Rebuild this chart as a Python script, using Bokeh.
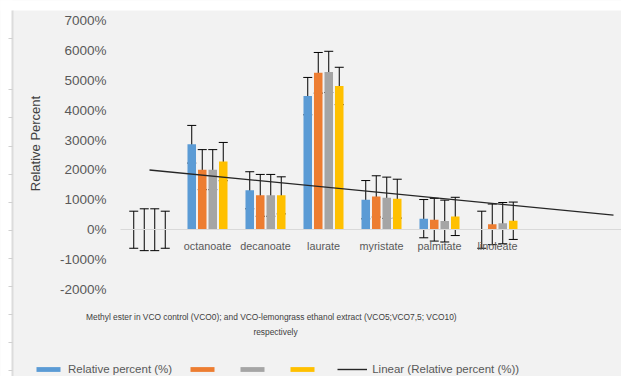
import numpy as np
from bokeh.plotting import figure
from bokeh.models import (Range1d, FixedTicker, PrintfTickFormatter, ColumnDataSource,
                          Whisker, TeeHead, Label, Legend, LegendItem, LinearAxis, BoxAnnotation)
from bokeh.embed import file_html
from bokeh.resources import INLINE

# ---------------- data ----------------
categories = ["", "octanoate", "decanoate", "laurate", "myristate", "palmitate", "linoleate"]
vco0 = [0, 2860, 1320, 4470, 1005, 370, 0]
vco5 = [0, 2010, 1150, 5250, 1115, 335, 180]
vco75 = [0, 2010, 1150, 5280, 1070, 290, 220]
vco10 = [0, 2280, 1150, 4810, 1040, 445, 300]
err0 = [620, 630, 620, 625, 640, 640, 620]
err5 = [700, 670, 700, 680, 690, 715, 680]
err75 = [700, 670, 700, 690, 690, 700, 690]
err10 = [620, 640, 620, 625, 650, 640, 625]
series_labels = ["Relative percent (%)", "", "", ""]
trend_label = "Linear (Relative percent (%))"
forecast_forward = 2
y_ticks = [-2000, -1000, 0, 1000, 2000, 3000, 4000, 5000, 6000, 7000]
y_title = "Relative Percent"
x_title_1 = "Methyl ester in VCO control (VCO0); and VCO-lemongrass  ethanol extract (VCO5;VCO7,5; VCO10)"
x_title_2 = "respectively"

# ---------------- style / layout (pixels) ----------------
FONT = "Liberation Sans"
BG = "#f2f2f2"
colors = ["#5B9BD5", "#ED7D31", "#A5A5A5", "#FFC000"]
W, H = 621, 376
PL, PT, PB = 120, 20, 289        # plot-area left, y of top tick, y of bottom tick
STEP = 58.0                      # px per category
y_lo, y_hi = y_ticks[0], y_ticks[-1]
ppu = (PB - PT) / (y_hi - y_lo)  # px per unit
yr = Range1d(y_lo - (H - PB) / ppu, y_hi + PT / ppu)
xr = Range1d(0.5 - PL / STEP, 0.5 + (W - PL) / STEP)
offsets = [-0.2716, -0.0905, 0.0905, 0.2716]
bar_w = 0.147

p = figure(width=W, height=H, output_backend="svg", toolbar_location=None,
           x_range=xr, y_range=yr, x_axis_location=None, y_axis_location=None,
           min_border=0, background_fill_color=BG, border_fill_color=BG,
           outline_line_color=None)
p.xgrid.visible = False
p.ygrid.visible = False

# page decorations: white strips and left ruler line
p.add_layout(BoxAnnotation(left=-5, right=12, bottom=-50, top=H + 50,
                           left_units="screen", right_units="screen",
                           bottom_units="screen", top_units="screen",
                           fill_color="white", fill_alpha=1, line_color=None))
p.add_layout(BoxAnnotation(left=-5, right=W + 5, bottom=H - 10, top=H + 50,
                           left_units="screen", right_units="screen",
                           bottom_units="screen", top_units="screen",
                           fill_color="white", fill_alpha=1, line_color=None))
p.add_layout(BoxAnnotation(left=11, right=13, bottom=-50, top=H - 10,
                           left_units="screen", right_units="screen",
                           bottom_units="screen", top_units="screen",
                           fill_color="#dcdcdc", fill_alpha=1, line_color=None))
for ty in [38, 89, 117, 146, 174, 202, 230, 258, 286, 314, 342, 370]:
    p.add_layout(BoxAnnotation(left=8, right=12, bottom=H - ty - 0.5, top=H - ty + 0.5,
                               left_units="screen", right_units="screen",
                               bottom_units="screen", top_units="screen",
                               fill_color="#d0d0d0", fill_alpha=1, line_color=None))

xs = np.arange(1, len(categories) + 1)
all_vals = [vco0, vco5, vco75, vco10]
all_errs = [err0, err5, err75, err10]
bar_renderers = []
for vals, col, off in zip(all_vals, colors, offsets):
    src = ColumnDataSource(dict(x=xs + off, top=np.array(vals, dtype=float)))
    r = p.vbar(x="x", top="top", width=bar_w, source=src, fill_color=col, line_color=None)
    bar_renderers.append(r)

# linear trend of first series, extended forward
coef = np.polyfit(xs, np.array(vco0, dtype=float), 1)
tx = np.array([1, len(categories) + forecast_forward], dtype=float)
tr = p.line(tx, np.polyval(coef, tx), line_color="#262626", line_width=1.4)

for vals, errs, off in zip(all_vals, all_errs, offsets):
    v = np.array(vals, dtype=float)
    e = np.array(errs, dtype=float)
    src = ColumnDataSource(dict(x=xs + off, upper=v + e, lower=v - e))
    wk = Whisker(base="x", upper="upper", lower="lower", source=src, dimension="height",
                 line_color="black", line_width=1,
                 upper_head=TeeHead(size=9, line_color="black", line_width=1),
                 lower_head=TeeHead(size=9, line_color="black", line_width=1))
    p.add_layout(wk)

# axes drawn inside the frame
xa = LinearAxis(fixed_location=0, bounds=(0.5, xr.end))
xa.ticker = FixedTicker(ticks=[int(i) for i in xs])
xa.major_label_overrides = {int(i): c for i, c in zip(xs, categories)}
xa.axis_line_color = "#d9d9d9"
xa.major_tick_line_color = None
xa.minor_tick_line_color = None
xa.major_label_standoff = 4
xa.major_label_text_font = FONT
xa.major_label_text_font_size = "10.8px"
xa.major_label_text_color = "#595959"
p.add_layout(xa, "below")

ya = LinearAxis(fixed_location=0.5)
ya.ticker = FixedTicker(ticks=y_ticks)
ya.formatter = PrintfTickFormatter(format="%d%%")
ya.axis_line_color = None
ya.major_tick_line_color = None
ya.minor_tick_line_color = None
ya.major_tick_out = 0
ya.major_label_standoff = 14
ya.major_label_text_font = FONT
ya.major_label_text_font_size = "13.5px"
ya.major_label_text_color = "#595959"
p.add_layout(ya, "left")

# titles (screen units, y up from bottom)
p.add_layout(Label(x=35, y=H - 143, x_units="screen", y_units="screen", text=y_title,
                   angle=np.pi / 2, text_align="center", text_baseline="middle",
                   text_font=FONT, text_font_size="13px", text_color="#404040"))
p.add_layout(Label(x=272, y=H - 316, x_units="screen", y_units="screen", text=x_title_1,
                   text_align="center", text_baseline="middle",
                   text_font=FONT, text_font_size="8.4px", text_color="#404040"))
p.add_layout(Label(x=275, y=H - 331, x_units="screen", y_units="screen", text=x_title_2,
                   text_align="center", text_baseline="middle",
                   text_font=FONT, text_font_size="8.4px", text_color="#404040"))

items = [LegendItem(label=lab, renderers=[r]) for lab, r in zip(series_labels, bar_renderers)]
items.append(LegendItem(label=trend_label, renderers=[tr]))
leg = Legend(items=items, orientation="horizontal", location=(33, H - 375),
             padding=0, margin=0, spacing=15, label_standoff=5,
             glyph_width=30, glyph_height=6, label_height=12, label_width=0,
             border_line_color=None, background_fill_alpha=0,
             label_text_font=FONT, label_text_font_size="11.5px", label_text_color="#595959")
p.add_layout(leg)

open("out.html", "w").write(file_html(p, INLINE))
